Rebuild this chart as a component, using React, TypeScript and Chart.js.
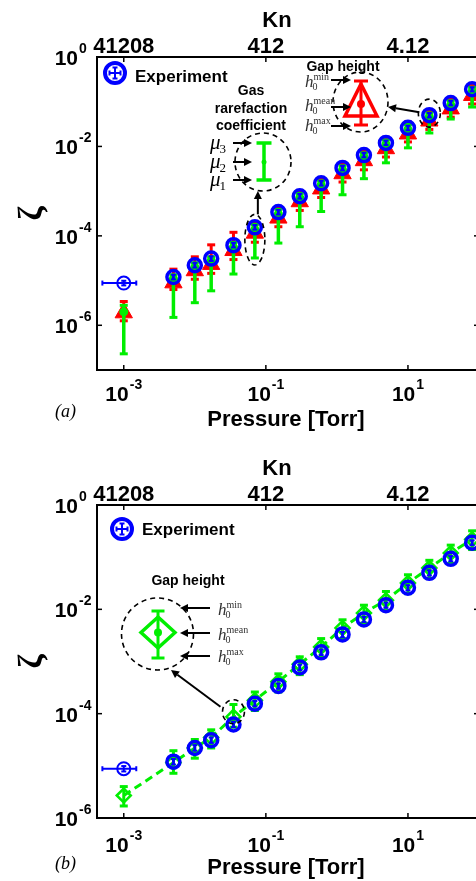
import { useEffect, useRef } from "react";
import { Chart, registerables } from "chart.js";

Chart.register(...registerables);

// ---------- measured data ----------
// Pressure of each measurement [Torr]
const pressure = [0.001, 0.005, 0.01, 0.017, 0.035, 0.07, 0.15, 0.3, 0.6, 1.2, 2.4, 4.9, 10, 20, 40, 80];
const pressureLow = [0.0005, 0.00495, 0.0099, 0.0168, 0.0347, 0.0693, 0.1485, 0.297, 0.594, 1.19, 2.38, 4.85, 9.9, 19.8, 39.6, 79.2];
const pressureHigh = [0.0015, 0.00505, 0.0101, 0.0172, 0.0353, 0.0707, 0.1515, 0.303, 0.606, 1.21, 2.42, 4.95, 10.1, 20.2, 40.4, 80.8];

// Experimental damping ratio
const zetaExp = [8.8e-6, 1.2e-5, 2.2e-5, 3.1e-5, 6.2e-5, 1.55e-4, 3.4e-4, 7.7e-4, 1.5e-3, 3.3e-3, 6.4e-3, 1.2e-2, 2.6e-2, 5.0e-2, 9.3e-2, 0.19];
const zetaExpLow = [7.8e-6, 1.06e-5, 1.95e-5, 2.75e-5, 5.5e-5, 1.38e-4, 3.0e-4, 6.8e-4, 1.33e-3, 2.9e-3, 5.7e-3, 1.07e-2, 2.3e-2, 4.45e-2, 8.3e-2, 0.17];
const zetaExpHigh = [9.9e-6, 1.35e-5, 2.5e-5, 3.5e-5, 7.0e-5, 1.75e-4, 3.8e-4, 8.7e-4, 1.7e-3, 3.7e-3, 7.2e-3, 1.35e-2, 2.9e-2, 5.6e-2, 0.105, 0.21];

// (a) model with gap height h0 (mean, min, max)
const zetaGapMean = [1.9e-6, 8.9e-6, 1.66e-5, 2.3e-5, 4.7e-5, 1.15e-4, 2.5e-4, 5.8e-4, 1.12e-3, 2.45e-3, 4.8e-3, 8.9e-3, 1.9e-2, 3.7e-2, 6.9e-2, 0.138];
const zetaGapMin = [1.26e-6, 6.3e-6, 1.07e-5, 1.45e-5, 2.95e-5, 7.2e-5, 1.6e-4, 3.7e-4, 7.2e-4, 1.6e-3, 3.0e-3, 5.8e-3, 1.26e-2, 2.4e-2, 4.5e-2, 8.9e-2];
const zetaGapMax = [3.4e-6, 1.8e-5, 3.4e-5, 6.3e-5, 1.2e-4, 2.0e-4, 4.4e-4, 1.0e-3, 1.9e-3, 4.2e-3, 7.9e-3, 1.6e-2, 3.5e-2, 6.3e-2, 0.117, 0.24];

// (a) model with gas rarefaction coefficient mu1 < mu2 < mu3
const zetaMu2 = [2.0e-6, 1.1e-5, 2.0e-5, 2.8e-5, 5.6e-5, 1.4e-4, 3.1e-4, 7.1e-4, 1.38e-3, 3.0e-3, 5.9e-3, 1.12e-2, 2.4e-2, 4.6e-2, 8.5e-2, 0.17];
const zetaMu1 = [2.3e-7, 1.5e-6, 3.2e-6, 5.9e-6, 1.4e-5, 3.2e-5, 6.9e-5, 1.6e-4, 3.5e-4, 8.3e-4, 1.9e-3, 4.3e-3, 9.3e-3, 2.0e-2, 4.1e-2, 7.6e-2];
const zetaMu3 = [2.8e-6, 1.35e-5, 2.5e-5, 3.4e-5, 7.1e-5, 1.8e-4, 3.9e-4, 8.9e-4, 1.7e-3, 3.7e-3, 7.2e-3, 1.4e-2, 3.1e-2, 5.6e-2, 0.105, 0.21];

// (b) model with gap height h0 (mean, min, max)
const zetaFit = [2.7e-6, 1.15e-5, 2.2e-5, 3.5e-5, 8.7e-5, 1.8e-4, 4.1e-4, 8.9e-4, 1.9e-3, 4.4e-3, 8.5e-3, 1.5e-2, 3.2e-2, 6.2e-2, 0.12, 0.22];
const zetaFitLow = [1.7e-6, 7.2e-6, 1.4e-5, 2.2e-5, 5.5e-5, 1.15e-4, 2.6e-4, 5.6e-4, 1.2e-3, 2.75e-3, 5.4e-3, 9.5e-3, 2.0e-2, 3.9e-2, 7.6e-2, 0.14];
const zetaFitHigh = [4.0e-6, 1.95e-5, 3.2e-5, 4.9e-5, 1.5e-4, 2.6e-4, 5.8e-4, 1.23e-3, 2.75e-3, 6.3e-3, 1.2e-2, 2.2e-2, 4.6e-2, 8.7e-2, 0.17, 0.32];

// ---------- axes ----------
const pressureTicks = [1e-3, 1e-1, 1e1];
const pressureTickExps = ["-3", "-1", "1"];
const knTickLabels = ["41208", "412", "4.12"];
const zetaTicks = [1e0, 1e-2, 1e-4, 1e-6];
const zetaTickExps = ["0", "-2", "-4", "-6"];

const BLUE = "#0000ff";
const RED = "#ff0000";
const GREEN = "#00ee00";
const SANS = '"Liberation Sans", Arial, Helvetica, sans-serif';
const SERIF = '"Liberation Serif", "Times New Roman", serif';

// ---------- drawing helpers ----------
function seg(ctx, x1, y1, x2, y2) {
  ctx.beginPath();
  ctx.moveTo(x1, y1);
  ctx.lineTo(x2, y2);
  ctx.stroke();
}

function arrow(ctx, x1, y1, x2, y2) {
  const head = 8;
  const half = 4;
  const ang = Math.atan2(y2 - y1, x2 - x1);
  const bx = x2 - head * Math.cos(ang);
  const by = y2 - head * Math.sin(ang);
  ctx.save();
  ctx.strokeStyle = "#000";
  ctx.fillStyle = "#000";
  ctx.lineWidth = 2;
  ctx.setLineDash([]);
  seg(ctx, x1, y1, bx, by);
  ctx.beginPath();
  ctx.moveTo(x2, y2);
  ctx.lineTo(bx + half * Math.sin(ang), by - half * Math.cos(ang));
  ctx.lineTo(bx - half * Math.sin(ang), by + half * Math.cos(ang));
  ctx.closePath();
  ctx.fill();
  ctx.restore();
}

function dashedEllipse(ctx, cx, cy, rx, ry) {
  ctx.save();
  ctx.strokeStyle = "#000";
  ctx.lineWidth = 1.6;
  ctx.setLineDash([5, 4]);
  ctx.beginPath();
  ctx.ellipse(cx, cy, rx, ry, 0, 0, Math.PI * 2);
  ctx.stroke();
  ctx.restore();
}

function vBar(ctx, x, y0, y1, cap, color, lw) {
  ctx.save();
  ctx.strokeStyle = color;
  ctx.lineWidth = lw;
  seg(ctx, x, y0, x, y1);
  seg(ctx, x - cap, y0, x + cap, y0);
  seg(ctx, x - cap, y1, x + cap, y1);
  ctx.restore();
}

function dot(ctx, x, y, r, color) {
  ctx.save();
  ctx.fillStyle = color;
  ctx.beginPath();
  ctx.arc(x, y, r, 0, Math.PI * 2);
  ctx.fill();
  ctx.restore();
}

// "10" with a raised exponent; anchor is the right edge of "10" or the centre of the whole label
function sci(ctx, x, baseline, exp, align) {
  ctx.save();
  ctx.fillStyle = "#000";
  ctx.textAlign = "left";
  ctx.textBaseline = "alphabetic";
  ctx.font = `bold 21px ${SANS}`;
  const w1 = ctx.measureText("10").width;
  ctx.font = `bold 14px ${SANS}`;
  const w2 = ctx.measureText(exp).width;
  const total = w1 + 1 + w2;
  const x0 = align === "center" ? x - total / 2 : x - w1;
  ctx.font = `bold 21px ${SANS}`;
  ctx.fillText("10", x0, baseline);
  ctx.font = `bold 14px ${SANS}`;
  ctx.fillText(exp, x0 + w1 + 1, baseline - 12);
  ctx.restore();
}

function hLabel(ctx, x, baseline, sup) {
  ctx.save();
  ctx.fillStyle = "#333";
  ctx.textAlign = "left";
  ctx.textBaseline = "alphabetic";
  ctx.font = `italic 17px ${SERIF}`;
  ctx.fillText("h", x, baseline);
  const w = ctx.measureText("h").width;
  ctx.font = `10px ${SERIF}`;
  ctx.fillText("0", x + w - 1, baseline + 3);
  ctx.fillText(sup, x + w, baseline - 7);
  ctx.restore();
}

function muLabel(ctx, x, baseline, idx) {
  ctx.save();
  ctx.fillStyle = "#000";
  ctx.textAlign = "left";
  ctx.textBaseline = "alphabetic";
  ctx.font = `italic 21px ${SERIF}`;
  ctx.fillText("\u03bc", x, baseline);
  const w = ctx.measureText("\u03bc").width;
  ctx.font = `13px ${SERIF}`;
  ctx.fillText(idx, x + w - 1, baseline + 4);
  ctx.restore();
}

function experimentKey(ctx, cx, cy, tx, tb) {
  ctx.save();
  ctx.fillStyle = "#fff";
  ctx.beginPath();
  ctx.arc(cx, cy, 10, 0, Math.PI * 2);
  ctx.fill();
  ctx.strokeStyle = BLUE;
  ctx.lineWidth = 4;
  ctx.beginPath();
  ctx.arc(cx, cy, 10, 0, Math.PI * 2);
  ctx.stroke();
  ctx.lineWidth = 2;
  seg(ctx, cx - 5.5, cy, cx + 5.5, cy);
  seg(ctx, cx, cy - 5.5, cx, cy + 5.5);
  seg(ctx, cx - 5.5, cy - 2.5, cx - 5.5, cy + 2.5);
  seg(ctx, cx + 5.5, cy - 2.5, cx + 5.5, cy + 2.5);
  seg(ctx, cx - 2.5, cy - 5.5, cx + 2.5, cy - 5.5);
  seg(ctx, cx - 2.5, cy + 5.5, cx + 2.5, cy + 5.5);
  ctx.fillStyle = "#000";
  ctx.font = `bold 17px ${SANS}`;
  ctx.textAlign = "left";
  ctx.textBaseline = "alphabetic";
  ctx.fillText("Experiment", tx, tb);
  ctx.restore();
}

// ---------- plugins ----------
const errorBarPlugin = {
  id: "errorBars",
  beforeDatasetDraw(chart, args) {
    const ds = chart.data.datasets[args.index];
    const e = ds.errorBars;
    if (!e) return;
    const { ctx } = chart;
    const xs = chart.scales.x;
    const ys = chart.scales.y;
    ctx.save();
    ctx.strokeStyle = e.color;
    ctx.setLineDash([]);
    ds.data.forEach((pt, i) => {
      const x = xs.getPixelForValue(pt.x);
      const y = ys.getPixelForValue(pt.y);
      const y0 = ys.getPixelForValue(e.low[i]);
      const y1 = ys.getPixelForValue(e.high[i]);
      ctx.lineWidth = e.width;
      seg(ctx, x, y0, x, y1);
      ctx.lineWidth = e.capWidth;
      seg(ctx, x - e.cap, y0, x + e.cap, y0);
      seg(ctx, x - e.cap, y1, x + e.cap, y1);
      if (e.xLow) {
        const xa = xs.getPixelForValue(e.xLow[i]);
        const xb = xs.getPixelForValue(e.xHigh[i]);
        ctx.lineWidth = e.width;
        seg(ctx, xa, y, xb, y);
        ctx.lineWidth = e.capWidth;
        seg(ctx, xa, y - e.cap, xa, y + e.cap);
        seg(ctx, xb, y - e.cap, xb, y + e.cap);
      }
    });
    ctx.restore();
  },
};

function framePlugin(frame) {
  return {
    id: "frame",
    afterDraw(chart) {
      const { ctx, chartArea: ca } = chart;
      const xs = chart.scales.x;
      const ys = chart.scales.y;
      ctx.save();
      ctx.strokeStyle = "#000";
      ctx.fillStyle = "#000";
      ctx.setLineDash([]);
      ctx.lineWidth = 2;
      ctx.strokeRect(ca.left, ca.top, ca.right - ca.left, ca.bottom - ca.top);
      ctx.lineWidth = 1.5;
      pressureTicks.forEach((v, i) => {
        const x = xs.getPixelForValue(v);
        seg(ctx, x, ca.bottom, x, ca.bottom - 5);
        seg(ctx, x, ca.top, x, ca.top + 5);
        sci(ctx, x, ca.bottom + frame.tickGap, pressureTickExps[i], "center");
        ctx.font = `bold 22px ${SANS}`;
        ctx.textAlign = "center";
        ctx.textBaseline = "alphabetic";
        ctx.fillText(knTickLabels[i], x, ca.top - 4.5);
      });
      zetaTicks.forEach((v, i) => {
        const y = ys.getPixelForValue(v);
        if (y < ca.top - 1 || y > ca.bottom + 1) return;
        seg(ctx, ca.left, y, ca.left + 5, y);
        seg(ctx, ca.right, y, ca.right - 5, y);
        sci(ctx, ca.left - 19, y + 8, zetaTickExps[i], "left");
      });
      // axis titles
      ctx.font = `bold 22px ${SANS}`;
      ctx.textAlign = "center";
      ctx.fillText("Kn", ca.left + 180, ca.top - 30);
      ctx.fillText("Pressure [Torr]", ca.left + 189, ca.bottom + 56);
      ctx.save();
      ctx.translate(32, (ca.top + ca.bottom) / 2);
      ctx.rotate(-Math.PI / 2);
      ctx.font = `bold 34px ${SERIF}`;
      ctx.textBaseline = "middle";
      ctx.fillText("\u03b6", 0, 0);
      ctx.restore();
      ctx.font = `italic 18px ${SERIF}`;
      ctx.textAlign = "left";
      ctx.fillText(frame.tag, 55, ca.bottom + frame.tagGap);
      frame.annotate(chart);
      ctx.restore();
    },
  };
}

function annotateA(chart) {
  const { ctx, chartArea: ca } = chart;
  const xs = chart.scales.x;
  const ys = chart.scales.y;
  const L = ca.left;
  const T = ca.top;
  experimentKey(ctx, L + 18, T + 16, L + 38, T + 25);

  // gas rarefaction coefficient callout
  ctx.save();
  ctx.fillStyle = "#000";
  ctx.font = `bold 14px ${SANS}`;
  ctx.textAlign = "center";
  ["Gas", "rarefaction", "coefficient"].forEach((s, k) => ctx.fillText(s, L + 154, T + 38 + 17.5 * k));
  ctx.restore();
  dashedEllipse(ctx, L + 166, T + 105, 28, 29);
  vBar(ctx, L + 167, T + 86, T + 123, 7.5, GREEN, 3.5);
  dot(ctx, L + 167, T + 105, 2.5, GREEN);
  const muRows = [86, 105, 123];
  ["3", "2", "1"].forEach((d, k) => {
    muLabel(ctx, L + 113, T + muRows[k] + 6, d);
    arrow(ctx, L + 136, T + muRows[k], L + 155, T + muRows[k]);
  });
  const i6 = 5;
  const x6 = xs.getPixelForValue(pressure[i6]);
  const yA = ys.getPixelForValue(zetaExp[i6]);
  const yB = ys.getPixelForValue(zetaMu1[i6]);
  const cy6 = (yA + yB) / 2 - 3;
  const ry6 = (yB - yA) / 2 + 10;
  dashedEllipse(ctx, x6, cy6, 10, ry6);
  arrow(ctx, x6 + 3, cy6 - ry6, x6 + 3, T + 134);

  // gap height callout
  ctx.save();
  ctx.fillStyle = "#000";
  ctx.font = `bold 14px ${SANS}`;
  ctx.textAlign = "center";
  ctx.fillText("Gap height", L + 246, T + 14);
  ctx.restore();
  dashedEllipse(ctx, L + 263.5, T + 45, 27.5, 30);
  ctx.save();
  ctx.strokeStyle = RED;
  ctx.lineWidth = 3.5;
  ctx.lineJoin = "miter";
  ctx.beginPath();
  ctx.moveTo(L + 264, T + 27);
  ctx.lineTo(L + 280, T + 59);
  ctx.lineTo(L + 248, T + 59);
  ctx.closePath();
  ctx.stroke();
  ctx.restore();
  vBar(ctx, L + 264, T + 24, T + 68, 7, RED, 3);
  dot(ctx, L + 264, T + 47, 4, RED);
  const hBase = [30, 54, 74];
  const hArrow = [23, 50, 69];
  ["min", "mean", "max"].forEach((s, k) => {
    hLabel(ctx, L + 208, T + hBase[k], s);
    arrow(ctx, L + 234, T + hArrow[k], L + 254, T + hArrow[k]);
  });
  const i14 = 13;
  const cx14 = xs.getPixelForValue(pressure[i14]);
  const cy14 = ys.getPixelForValue(zetaExp[i14]) - 2;
  dashedEllipse(ctx, cx14, cy14, 11, 14);
  arrow(ctx, cx14 - 10, cy14 - 1, L + 291, T + 50);
}

function annotateB(chart) {
  const { ctx, chartArea: ca } = chart;
  const xs = chart.scales.x;
  const ys = chart.scales.y;
  const L = ca.left;
  const T = ca.top;
  experimentKey(ctx, L + 25, T + 24, L + 45, T + 30);

  ctx.save();
  ctx.fillStyle = "#000";
  ctx.font = `bold 14px ${SANS}`;
  ctx.textAlign = "center";
  ctx.fillText("Gap height", L + 91, T + 80);
  ctx.restore();
  dashedEllipse(ctx, L + 60.5, T + 129, 36, 36);
  ctx.save();
  ctx.strokeStyle = GREEN;
  ctx.lineWidth = 3.5;
  ctx.beginPath();
  ctx.moveTo(L + 61, T + 112);
  ctx.lineTo(L + 78, T + 127.5);
  ctx.lineTo(L + 61, T + 143);
  ctx.lineTo(L + 44, T + 127.5);
  ctx.closePath();
  ctx.stroke();
  ctx.restore();
  vBar(ctx, L + 61, T + 106, T + 153, 6.5, GREEN, 3);
  dot(ctx, L + 61, T + 127.5, 4, GREEN);
  const hBase = [110, 135, 157];
  const hArrow = [103, 128, 151];
  ["min", "mean", "max"].forEach((s, k) => {
    hLabel(ctx, L + 121, T + hBase[k], s);
    arrow(ctx, L + 113, T + hArrow[k], L + 83, T + hArrow[k]);
  });
  const i5 = 4;
  const cx5 = xs.getPixelForValue(pressure[i5]);
  const cy5 = ys.getPixelForValue(zetaFit[i5]) - 5;
  dashedEllipse(ctx, cx5, cy5, 11, 12);
  arrow(ctx, cx5 - 13, cy5 - 5, L + 74, T + 165);
}

const points = (vals) => pressure.map((x, i) => ({ x, y: vals[i] }));

const experimentDataset = () => ({
  label: "Experiment",
  data: points(zetaExp),
  pointStyle: "circle",
  pointRadius: (c) => (c.dataIndex === 0 ? 6.5 : 6.5),
  pointBorderWidth: (c) => (c.dataIndex === 0 ? 2 : 3.5),
  pointBorderColor: BLUE,
  pointBackgroundColor: "rgba(0,0,0,0)",
  borderColor: BLUE,
  errorBars: {
    low: zetaExpLow,
    high: zetaExpHigh,
    xLow: pressureLow,
    xHigh: pressureHigh,
    color: BLUE,
    width: 2,
    cap: 2.5,
    capWidth: 2,
  },
});

function baseOptions(padding, yMin) {
  return {
    responsive: false,
    maintainAspectRatio: false,
    animation: false,
    events: [],
    layout: { padding },
    plugins: { legend: { display: false }, tooltip: { enabled: false } },
    scales: {
      x: { type: "logarithmic", min: 4.2e-4, max: 100, display: false },
      y: { type: "logarithmic", min: yMin, max: 1, display: false },
    },
  };
}

function configA() {
  return {
    type: "scatter",
    data: {
      datasets: [
        experimentDataset(),
        {
          label: "rarefaction coefficient",
          data: points(zetaMu2),
          pointStyle: "circle",
          pointRadius: 4.5,
          pointBorderWidth: 0,
          pointBackgroundColor: GREEN,
          borderColor: GREEN,
          errorBars: { low: zetaMu1, high: zetaMu3, color: GREEN, width: 3.5, cap: 4, capWidth: 3 },
        },
        {
          label: "gap height",
          data: points(zetaGapMean),
          pointStyle: "triangle",
          pointRadius: 10,
          pointBorderWidth: 1,
          pointBackgroundColor: RED,
          pointBorderColor: RED,
          borderColor: RED,
          errorBars: { low: zetaGapMin, high: zetaGapMax, color: RED, width: 3, cap: 4, capWidth: 3 },
        },
      ],
    },
    options: baseOptions({ left: 97, top: 57, right: 11, bottom: 70 }, 1e-7),
    plugins: [errorBarPlugin, framePlugin({ tickGap: 31, tag: "(a)", tagGap: 47, annotate: annotateA })],
  };
}

function configB() {
  return {
    type: "scatter",
    data: {
      datasets: [
        experimentDataset(),
        {
          label: "gap height",
          data: points(zetaFit),
          showLine: true,
          borderColor: GREEN,
          borderWidth: 3,
          borderDash: [8, 5],
          pointStyle: "rectRot",
          pointRadius: 7,
          pointBorderWidth: 2.5,
          pointBorderColor: GREEN,
          pointBackgroundColor: "rgba(0,0,0,0)",
          errorBars: { low: zetaFitLow, high: zetaFitHigh, color: GREEN, width: 3, cap: 4, capWidth: 3 },
        },
      ],
    },
    options: baseOptions({ left: 97, top: 65, right: 11, bottom: 63 }, 1e-6),
    plugins: [errorBarPlugin, framePlugin({ tickGap: 34, tag: "(b)", tagGap: 51, annotate: annotateB })],
  };
}

export default function App() {
  const refA = useRef(null);
  const refB = useRef(null);
  useEffect(() => {
    const a = new Chart(refA.current, configA());
    const b = new Chart(refB.current, configB());
    return () => {
      a.destroy();
      b.destroy();
    };
  }, []);
  return (
    <div style={{ position: "absolute", left: 0, top: 0, width: 476, height: 881, overflow: "hidden", background: "#fff" }}>
      <canvas ref={refA} width={490} height={440} style={{ position: "absolute", left: 0, top: 0, width: 490, height: 440 }} />
      <canvas ref={refB} width={490} height={441} style={{ position: "absolute", left: 0, top: 440, width: 490, height: 441 }} />
    </div>
  );
}
